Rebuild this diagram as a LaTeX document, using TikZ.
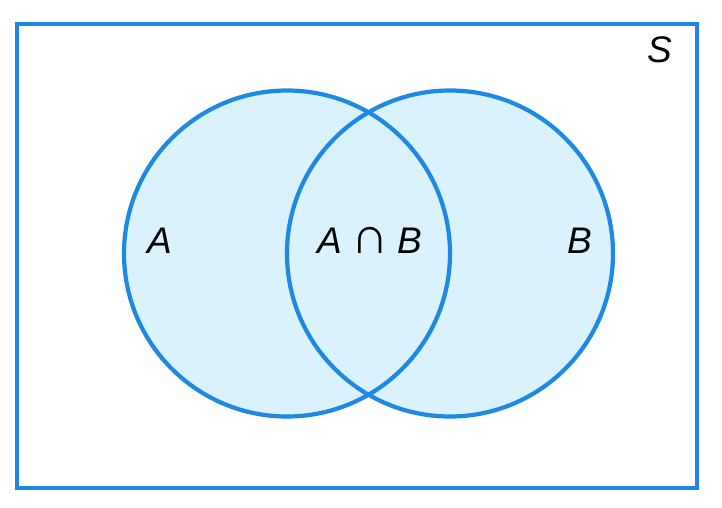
\documentclass[tikz,border=0pt]{standalone}
\usepackage{fontspec}
\setmainfont{Liberation Sans}
\definecolor{vblue}{RGB}{30,136,229}
\definecolor{vfill}{RGB}{218,242,253}
\begin{document}
\begin{tikzpicture}[x=1pt,y=-1pt,
  setcirc/.style={draw=vblue,line width=4.2pt,fill=vfill},
  lbl/.style={font=\fontsize{37}{40}\selectfont\itshape,anchor=base,inner sep=0pt,text=black}]
\useasboundingbox (0,0) rectangle (722,508);
\node[draw=vblue,line width=4pt,minimum width=680pt,minimum height=463pt,inner sep=0pt,anchor=north west] (S) at (15,22.5) {};
\fill[vfill] (287,253.5) circle[radius=163];
\fill[vfill] (450,253.5) circle[radius=163];
\draw[vblue,line width=4.2pt] (287,253.5) circle[radius=163];
\draw[vblue,line width=4.2pt] (450,253.5) circle[radius=163];
\node[lbl] (la) at (160,253) {A};
\node[lbl] (lab) at (370,253) {A\hspace{9pt}{\upshape\fontsize{52}{56}\selectfont ∩}\hspace{9pt}B};
\node[lbl] (lb) at (580,253) {B};
\node[lbl] (ls) at (660,63) {S};
\end{tikzpicture}
\end{document}
